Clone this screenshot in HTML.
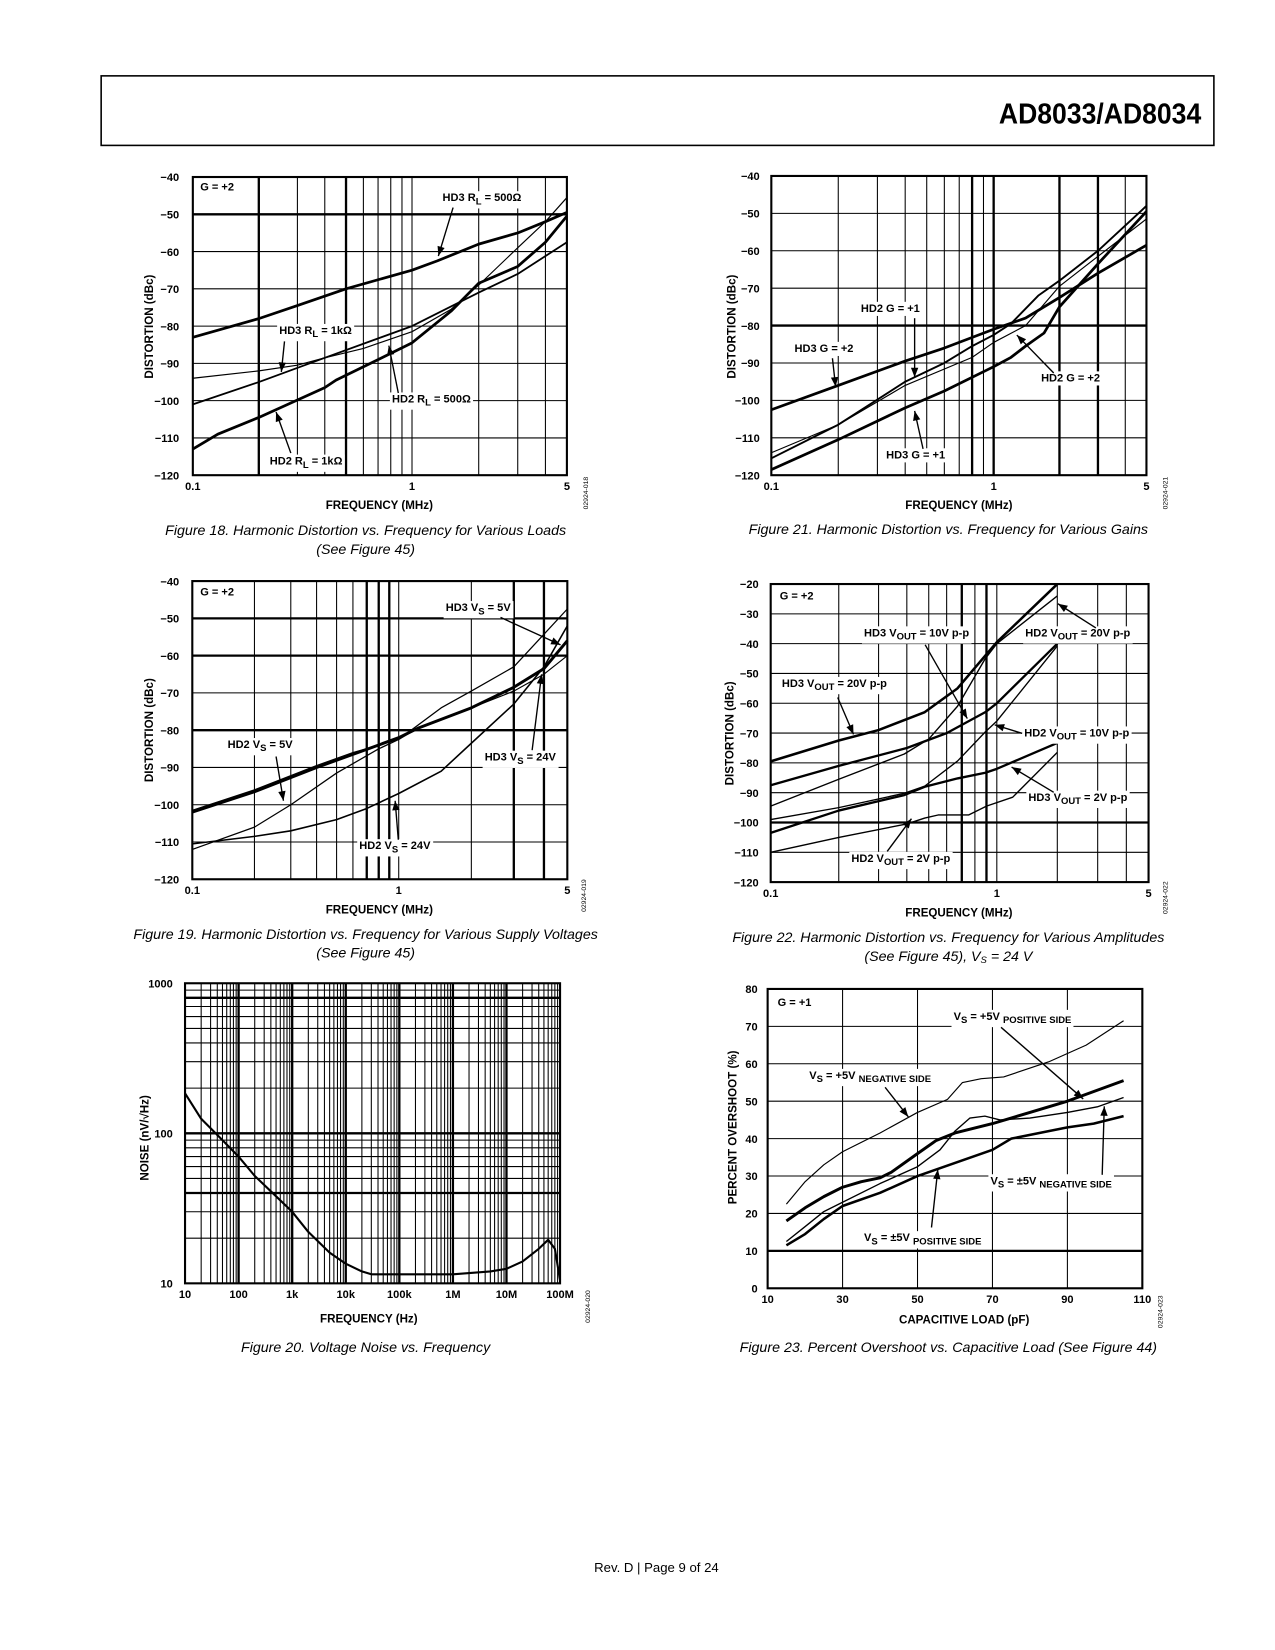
<!DOCTYPE html>
<html><head><meta charset="utf-8">
<style>
html,body{margin:0;padding:0;background:#fff;}
svg{display:block;}
text{font-family:"Liberation Sans",Arial,sans-serif;}
.tick{font-size:10.5px;font-weight:bold;}
.atitle{font-size:11px;font-weight:bold;}
.ann{font-size:10.5px;font-weight:bold;}
.cap{font-size:13.5px;font-style:italic;}
.code{font-size:6.5px;}
</style></head>
<body>
<svg id="page" width="1275" height="1650" viewBox="0 0 1210 1566" preserveAspectRatio="none" xmlns="http://www.w3.org/2000/svg">
<rect x="0" y="0" width="1210" height="1566" fill="#fff"/>
<rect x="96" y="72" width="1056" height="66" fill="none" stroke="#000" stroke-width="1.5"/>
<text x="1140" y="117" text-anchor="end" font-size="27" font-weight="bold" textLength="192" lengthAdjust="spacingAndGlyphs">AD8033/AD8034</text>
<text class="cap" x="347" y="508" text-anchor="middle">Figure 18. Harmonic Distortion vs. Frequency for Various Loads</text>
<text class="cap" x="347" y="526" text-anchor="middle">(See Figure 45)</text>
<text class="cap" x="900" y="507" text-anchor="middle">Figure 21. Harmonic Distortion vs. Frequency for Various Gains</text>
<text class="cap" x="347" y="891" text-anchor="middle">Figure 19. Harmonic Distortion vs. Frequency for Various Supply Voltages</text>
<text class="cap" x="347" y="909" text-anchor="middle">(See Figure 45)</text>
<text class="cap" x="900" y="894" text-anchor="middle">Figure 22. Harmonic Distortion vs. Frequency for Various Amplitudes</text>
<text class="cap" x="900" y="912" text-anchor="middle">(See Figure 45), V<tspan font-size="9" dy="2">S</tspan><tspan dy="-2"> = 24 V</tspan></text>
<text class="cap" x="347" y="1283" text-anchor="middle">Figure 20. Voltage Noise vs. Frequency</text>
<text class="cap" x="900" y="1283" text-anchor="middle">Figure 23. Percent Overshoot vs. Capacitive Load (See Figure 44)</text>
<text x="623" y="1492" text-anchor="middle" font-size="12.5">Rev. D | Page 9 of 24</text>
</svg>
<script>
// ---------- DATA ----------
// Fig 18
const f18_hd3_500_x=[0.1,0.2,0.3,0.5,1,1.3,2,3,4,5];
const f18_hd3_500_y=[-83,-78,-74.5,-70,-65,-62.5,-58,-55,-52,-49.5];
const f18_hd3_1k_x=[0.1,0.2,0.3,0.4,0.6,1,1.5,2,3,4,5];
const f18_hd3_1k_y=[-94,-92,-90.5,-88.5,-86,-81.5,-75.5,-69,-59,-52,-45.5];
const f18_hd2_500_x=[0.1,0.2,0.4,1,2,3,5];
const f18_hd2_500_y=[-101,-95,-88.5,-80,-71,-66,-57.5];
const f18_hd2_1k_x=[0.1,0.13,0.2,0.4,0.45,0.7,1,1.5,2,3,4,5];
const f18_hd2_1k_y=[-113,-109,-104.5,-96.5,-94.5,-89,-84.5,-76,-68.5,-64,-57.5,-50.5];
// Fig 21
const f21_hd3_g2_x=[0.1,0.2,0.4,0.6,1,1.4,2,3,5];
const f21_hd3_g2_y=[-102.5,-96,-89.5,-86,-81,-78,-72.5,-66,-58.5];
const f21_hd2_g1_x=[0.1,0.2,0.4,0.6,0.8,1,1.2,1.6,2,3,5];
const f21_hd2_g1_y=[-115.5,-106.5,-95,-90,-85.5,-82.5,-79.5,-72,-68,-60,-48];
const f21_hd2_g2_x=[0.1,0.2,0.4,0.8,1,1.4,2,3,5];
const f21_hd2_g2_y=[-114,-106.5,-96,-88.5,-84.5,-80,-69.5,-61.5,-51.5];
const f21_hd3_g1_x=[0.1,0.2,0.4,0.6,1,1.2,1.4,1.7,2,3,5];
const f21_hd3_g1_y=[-118.5,-110.5,-102,-97.5,-91,-88.5,-85.5,-82,-75,-63.5,-49.5];
// Fig 19
const f19_a_x=[0.1,0.2,0.4,0.6,1,1.2,2,3,4,5];
const f19_a_y=[-102,-96.5,-90,-86.5,-82,-79.5,-74,-68.5,-63.5,-56];
const f19_b_x=[0.1,0.2,0.3,0.5,0.8,1,1.5,2,3,5];
const f19_b_y=[-112,-106,-100,-91.5,-85,-82.5,-74,-69.5,-63,-47.5];
const f19_c_x=[0.1,0.2,0.3,0.5,0.7,1,1.5,2,3,4,5];
const f19_c_y=[-110.5,-108.5,-107,-104,-101,-97,-91,-83.5,-73,-63,-52];
const f19_d_x=[0.1,0.2,0.4,0.6,1,1.2,2,3,4,5];
const f19_d_y=[-101.5,-96,-89.5,-86,-82.5,-79.5,-74,-69.5,-65,-60];
// Fig 22
const f22_hd3_20_x=[0.1,0.2,0.3,0.48,0.67,0.89,1,2];
const f22_hd3_20_y=[-79.5,-72.5,-69,-63,-55,-44,-39.5,-20];
const f22_hd2_20_x=[0.1,0.2,0.39,0.5,0.67,0.89,1,2];
const f22_hd2_20_y=[-94.5,-85.5,-77,-72,-61,-45,-40,-24];
const f22_hd3_10_x=[0.1,0.2,0.4,0.6,0.89,1,2];
const f22_hd3_10_y=[-87.5,-81,-75,-70,-63,-60,-40];
const f22_hd2_10_x=[0.1,0.2,0.39,0.48,0.67,0.89,1,2];
const f22_hd2_10_y=[-99,-95,-90.2,-87.8,-79.4,-69.6,-66,-40.8];
const f22_hd3_2_x=[0.1,0.2,0.39,0.48,0.67,0.89,1,2];
const f22_hd3_2_y=[-103.5,-96,-90.8,-88,-85.2,-83.3,-82,-73.3];
const f22_hd2_2_x=[0.1,0.2,0.4,0.48,0.55,0.67,0.75,0.9,1.2,2];
const f22_hd2_2_y=[-110,-105,-100.5,-98.5,-97.5,-97.5,-97.5,-94.5,-91.5,-76.5];
// Fig 20
const f20_freq=[10,20,50,100,200,500,1e3,2e3,5e3,1e4,2e4,3e4,1e5,1e6,5e6,1e7,2e7,4e7,6e7,8e7,1e8];
const f20_noise=[185,125,90,70,52,38,30,22,16,13.5,12,11.5,11.5,11.5,12,12.5,14,17,19.5,17,10.5];
// Fig 23
const f23_p5pos_x=[15,20,25,30,35,40,43,50,55,60,70,80,90,105];
const f23_p5pos_y=[18,21.5,24.5,27,28.5,29.5,31,36,39.5,41.5,44,47,50,55.5];
const f23_p5neg_x=[15,20,25,30,40,50,58,62,67,73,85,95,105];
const f23_p5neg_y=[22.5,28.5,33,36.5,41.5,47,50.5,55,56,56.5,60.5,65,71.5];
const f23_pm5neg_x=[15,20,25,30,40,50,56,60,64,68,72,80,90,98,105];
const f23_pm5neg_y=[12.5,16.5,20.5,23,28,32.5,37,42,45.5,46,45,45.5,47,48.5,51];
const f23_pm5pos_x=[15,20,25,30,40,50,60,70,75,85,90,97,105];
const f23_pm5pos_y=[11.5,14.5,18.5,22,25.5,30,33.5,37,40,42,43,44,46];
const dbTicks=[-40,-50,-60,-70,-80,-90,-100,-110,-120];
const dbTicks22=[-20,-30,-40,-50,-60,-70,-80,-90,-100,-110,-120];
const freqTickVals=[0.1,1,5];
const freqTickLabels=["0.1","1","5"];
const noiseXVals=[10,100,1e3,1e4,1e5,1e6,1e7,1e8];
const noiseXLabels=["10","100","1k","10k","100k","1M","10M","100M"];
const noiseYVals=[1000,100,10];
const ovXTicks=[10,30,50,70,90,110];
const ovYTicks=[0,10,20,30,40,50,60,70,80];

// ---------- HELPERS ----------
const NS="http://www.w3.org/2000/svg";
const page=document.getElementById('page');
function mk(tag,parent){const e=document.createElementNS(NS,tag);parent.appendChild(e);return e;}
function pwLog(bps){return v=>{const lv=Math.log10(v);for(let i=0;i<bps.length-1;i++){const a=Math.log10(bps[i][0]),b=Math.log10(bps[i+1][0]);if(lv<=b||i===bps.length-2){return bps[i][1]+(lv-a)/(b-a)*(bps[i+1][1]-bps[i][1]);}}};}
function lin(d0,d1,r0,r1){return v=>r0+(v-d0)/(d1-d0)*(r1-r0);}
function line(g,x1,y1,x2,y2,w){const l=mk('line',g);l.setAttribute('x1',x1);l.setAttribute('y1',y1);l.setAttribute('x2',x2);l.setAttribute('y2',y2);l.setAttribute('stroke','#000');l.setAttribute('stroke-width',w);return l;}
function txt(g,x,y,s,cls,anchor){const t=mk('text',g);t.setAttribute('x',x);t.setAttribute('y',y);t.setAttribute('class',cls);if(anchor)t.setAttribute('text-anchor',anchor);t.textContent=s;return t;}

function chart(name,box,xs,ys,vgrid,vthick,hgrid,hthick){
  const g=mk('g',page);
  
  
  const [L,T,R,B]=box;
  vgrid.forEach(v=>{const x=xs(v);const l=line(g,x,T,x,B,vthick.includes(v)?2.2:1);
    
    });
  hgrid.forEach(v=>{const y=ys(v);const l=line(g,L,y,R,y,hthick.includes(v)?2.2:1);
    
    });
  const r=mk('rect',g);r.setAttribute('x',L);r.setAttribute('y',T);r.setAttribute('width',R-L);r.setAttribute('height',B-T);
  r.setAttribute('fill','none');r.setAttribute('stroke','#000');r.setAttribute('stroke-width',2);
  
  
  return g;
}
function series(g,name,xv,yv,xs,ys,w){
  const p=mk('polyline',g);
  p.setAttribute('points',xv.map((x,i)=>xs(x).toFixed(1)+','+ys(yv[i]).toFixed(1)).join(' '));
  p.setAttribute('fill','none');p.setAttribute('stroke','#000');p.setAttribute('stroke-width',w);p.setAttribute('stroke-linejoin','round');
  
  
}
function yTicks(g,vals,labels,ys,L){vals.forEach((v,i)=>{const t=txt(g,L-6,ys(v)+4,labels[i],'tick','end');
  
  });}
function xTicks(g,vals,labels,xs,B){vals.forEach((v,i)=>{const t=txt(g,xs(v),B+14,labels[i],'tick','middle');
  
  });}
function titles(g,xt,xx,xy,yt,yx,yy,code,cx,cy){
  const a=txt(g,xx,xy,xt,'atitle','middle');
  
  
  const b=txt(g,0,0,yt,'atitle','middle');b.setAttribute('transform','translate('+yx+','+yy+') rotate(-90)');
  
  
  const c=txt(g,0,0,code,'code','middle');c.setAttribute('transform','translate('+cx+','+cy+') rotate(-90)');
  
  
}
// annotation: parts array of [text, isSub]
function ann(g,name,x,y,parts,arrow){
  const a=mk('g',g);
  
  
  const bg=mk('rect',a);bg.setAttribute('fill','#fff');
  const t=mk('text',a);t.setAttribute('x',x);t.setAttribute('y',y);t.setAttribute('class','ann');
  let sub=false;
  parts.forEach(p=>{const s=document.createElementNS(NS,'tspan');s.textContent=p[0];
    if(p[1]&&!sub){s.setAttribute('dy','3');s.setAttribute('font-size','9');sub=true;}
    else if(!p[1]&&sub){s.setAttribute('dy','-3');sub=false;}
    t.appendChild(s);});
  const bb=t.getBBox();bg.setAttribute('x',bb.x-2);bg.setAttribute('y',bb.y-1);bg.setAttribute('width',bb.width+4);bg.setAttribute('height',bb.height+2);
  if(arrow){const [x1,y1,x2,y2]=arrow;line(a,x1,y1,x2,y2,1.3);
    const ang=Math.atan2(y2-y1,x2-x1),L=9,W=3.5;
    const bx=x2-L*Math.cos(ang),by=y2-L*Math.sin(ang);
    const hp=mk('polygon',a);
    hp.setAttribute('points',x2+','+y2+' '+(bx-W*Math.sin(ang))+','+(by+W*Math.cos(ang))+' '+(bx+W*Math.sin(ang))+','+(by-W*Math.cos(ang)));
    hp.setAttribute('fill','#000');}
}
function simple(g,name,x,y,s){const t=txt(g,x,y,s,'ann');
  
  }
const minorF=[0.2,0.3,0.4,0.5,0.6,0.7,0.8,0.9,2,3,4];
const dbLabels=v=>v.map(d=>'\u2212'+Math.abs(d));

// ---------- FIG 18 ----------
{const box=[183,168,538,451];const xs=pwLog([[0.1,183],[1,391],[5,538]]);const ys=lin(-40,-120,168,451);
 const g=chart('chart-fig18',box,xs,ys,minorF.concat([1]),[0.2,0.5],[-50,-60,-70,-80,-90,-100,-110],[-50]);
 series(g,'hd3-rl-500',f18_hd3_500_x,f18_hd3_500_y,xs,ys,2.6);
 series(g,'hd3-rl-1k',f18_hd3_1k_x,f18_hd3_1k_y,xs,ys,1.1);
 series(g,'hd2-rl-500',f18_hd2_500_x,f18_hd2_500_y,xs,ys,1.7);
 series(g,'hd2-rl-1k',f18_hd2_1k_x,f18_hd2_1k_y,xs,ys,2.6);
 yTicks(g,dbTicks,dbLabels(dbTicks),ys,176);xTicks(g,freqTickVals,freqTickLabels,xs,451);
 titles(g,'FREQUENCY (MHz)',360,483,'DISTORTION (dBc)',145,310,'02924-018',558,468);
 simple(g,'gain-label',190,181,'G = +2');
 ann(g,'label-hd3-rl-500',420,191,[['HD3 R'],['L',1],[' = 500Ω']],[430,197,416,243]);
 ann(g,'label-hd3-rl-1k',265,317,[['HD3 R'],['L',1],[' = 1kΩ']],[270,324,267,353]);
 ann(g,'label-hd2-rl-500',372,382,[['HD2 R'],['L',1],[' = 500Ω']],[378,373,369,328]);
 ann(g,'label-hd2-rl-1k',256,441,[['HD2 R'],['L',1],[' = 1kΩ']],[276,430,262,391]);}

// ---------- FIG 21 ----------
{const box=[732,167,1088,451];const xs=pwLog([[0.1,732],[1,943],[5,1088]]);const ys=lin(-40,-120,167,451);
 const g=chart('chart-fig21',box,xs,ys,minorF.concat([1]),[0.8,1,2,3],[-50,-60,-70,-80,-90,-100,-110],[-80]);
 series(g,'hd3-g2',f21_hd3_g2_x,f21_hd3_g2_y,xs,ys,2.6);
 series(g,'hd2-g1',f21_hd2_g1_x,f21_hd2_g1_y,xs,ys,1.8);
 series(g,'hd2-g2',f21_hd2_g2_x,f21_hd2_g2_y,xs,ys,1.1);
 series(g,'hd3-g1',f21_hd3_g1_x,f21_hd3_g1_y,xs,ys,2.6);
 yTicks(g,dbTicks,dbLabels(dbTicks),ys,727);xTicks(g,freqTickVals,freqTickLabels,xs,451);
 titles(g,'FREQUENCY (MHz)',910,483,'DISTORTION (dBc)',698,310,'02924-021',1108,468);
 ann(g,'label-hd2-g1',817,296,[['HD2 G = +1']],[868,302,868,358]);
 ann(g,'label-hd3-g2',754,334,[['HD3 G = +2']],[790,340,793,367]);
 ann(g,'label-hd2-g2',988,362,[['HD2 G = +2']],[1000,354,965,318]);
 ann(g,'label-hd3-g1',841,435,[['HD3 G = +1']],[876,426,868,390]);}

// ---------- FIG 19 ----------
{const box=[182.5,551.5,538.4,834.5];const xs=pwLog([[0.1,182.5],[1,378.4],[5,538.4]]);const ys=lin(-40,-120,551.5,834.5);
 const g=chart('chart-fig19',box,xs,ys,minorF.concat([1]),[0.7,0.8,0.9,3,4],[-50,-60,-70,-80,-90,-100,-110],[-50,-60,-80]);
 series(g,'hd3-vs-24v',f19_a_x,f19_a_y,xs,ys,2.8);
 series(g,'hd2-vs-5v',f19_b_x,f19_b_y,xs,ys,1.2);
 series(g,'hd2-vs-24v',f19_c_x,f19_c_y,xs,ys,1.5);
 series(g,'hd3-vs-5v',f19_d_x,f19_d_y,xs,ys,1.1);
 yTicks(g,dbTicks,dbLabels(dbTicks),ys,176);xTicks(g,freqTickVals,freqTickLabels,xs,834.5);
 titles(g,'FREQUENCY (MHz)',360,867,'DISTORTION (dBc)',145,693,'02924-019',556,850);
 simple(g,'gain-label',190,565,'G = +2');
 ann(g,'label-hd3-vs-5v',423,580,[['HD3 V'],['S',1],[' = 5V']],[475,586,532,612]);
 ann(g,'label-hd2-vs-5v',216,710,[['HD2 V'],['S',1],[' = 5V']],[262,718,269,760]);
 ann(g,'label-hd3-vs-24v',460,722,[['HD3 V'],['S',1],[' = 24V']],[505,712,514,640]);
 ann(g,'label-hd2-vs-24v',341,806,[['HD2 V'],['S',1],[' = 24V']],[378,797,375,760]);}

// ---------- FIG 22 ----------
{const box=[731.4,554.3,1090,837.2];const xs=pwLog([[0.1,731.4],[1,946],[2,1003.4],[5,1090]]);const ys=lin(-20,-120,554.3,837.2);
 const g=chart('chart-fig22',box,xs,ys,minorF.concat([1]),[0.7,0.9],[-30,-40,-50,-60,-70,-80,-90,-100,-110],[-100]);
 series(g,'hd3-vout-20v',f22_hd3_20_x,f22_hd3_20_y,xs,ys,2.4);
 series(g,'hd2-vout-20v',f22_hd2_20_x,f22_hd2_20_y,xs,ys,1.3);
 series(g,'hd3-vout-10v',f22_hd3_10_x,f22_hd3_10_y,xs,ys,2.2);
 series(g,'hd2-vout-10v',f22_hd2_10_x,f22_hd2_10_y,xs,ys,1.3);
 series(g,'hd3-vout-2v',f22_hd3_2_x,f22_hd3_2_y,xs,ys,2.2);
 series(g,'hd2-vout-2v',f22_hd2_2_x,f22_hd2_2_y,xs,ys,1.3);
 yTicks(g,dbTicks22,dbLabels(dbTicks22),ys,726);xTicks(g,freqTickVals,freqTickLabels,xs,837.2);
 titles(g,'FREQUENCY (MHz)',910,870,'DISTORTION (dBc)',696,696,'02924-022',1108,852);
 simple(g,'gain-label',740,569,'G = +2');
 ann(g,'label-hd3-vout-10v',820,604,[['HD3 V'],['OUT',1],[' = 10V p-p']],[878,612,918,682]);
 ann(g,'label-hd2-vout-20v',973,604,[['HD2 V'],['OUT',1],[' = 20V p-p']],[1040,596,1004,573]);
 ann(g,'label-hd3-vout-20v',742,652,[['HD3 V'],['OUT',1],[' = 20V p-p']],[795,662,810,697]);
 ann(g,'label-hd2-vout-10v',972,699,[['HD2 V'],['OUT',1],[' = 10V p-p']],[970,696,944,688]);
 ann(g,'label-hd3-vout-2v',976,760,[['HD3 V'],['OUT',1],[' = 2V p-p']],[1000,752,960,728]);
 ann(g,'label-hd2-vout-2v',808,818,[['HD2 V'],['OUT',1],[' = 2V p-p']],[842,808,865,777]);}

// ---------- FIG 20 ----------
{const box=[175.6,933.2,531.5,1218];const xs=pwLog([[10,175.6],[1e8,531.5]]);const ys=pwLog([[10,1218],[1000,933.2]]);
 const vg=[],hg=[];
 for(let d=10;d<1e8;d*=10){for(let m=2;m<=9;m++)vg.push(d*m);vg.push(d*10);}
 for(let d=10;d<1000;d*=10){for(let m=2;m<=9;m++)hg.push(d*m);}
 hg.push(100);
 const g=chart('chart-fig20',box,xs,ys,vg,[100,1e3,1e4,1e5,1e6,1e7],hg,[800,40,100]);
 series(g,'voltage-noise-curve',f20_freq,f20_noise,xs,ys,2);
 yTicks(g,noiseYVals,noiseYVals.map(String),ys,170);xTicks(g,noiseXVals,noiseXLabels,xs,1218);
 titles(g,'FREQUENCY (Hz)',350,1255,'NOISE (nV/\u221AHz)',141,1080,'02924-020',560,1240);}

// ---------- FIG 23 ----------
{const box=[728.5,938.6,1084.1,1222.7];const xs=lin(10,110,728.5,1084.1);const ys=lin(0,80,1222.7,938.6);
 const g=chart('chart-fig23',box,xs,ys,[30,50,70,90],[],[10,20,30,40,50,60,70],[10]);
 series(g,'vs-plus5v-positive-side',f23_p5pos_x,f23_p5pos_y,xs,ys,2.8);
 series(g,'vs-plus5v-negative-side',f23_p5neg_x,f23_p5neg_y,xs,ys,1.1);
 series(g,'vs-pm5v-negative-side',f23_pm5neg_x,f23_pm5neg_y,xs,ys,1.3);
 series(g,'vs-pm5v-positive-side',f23_pm5pos_x,f23_pm5pos_y,xs,ys,2.4);
 yTicks(g,ovYTicks,ovYTicks.map(String),ys,725);xTicks(g,ovXTicks,ovXTicks.map(String),xs,1222.7);
 titles(g,'CAPACITIVE LOAD (pF)',915,1256,'PERCENT OVERSHOOT (%)',699,1070,'02924-023',1103,1245);
 simple(g,'gain-label',738,955,'G = +1');
 ann(g,'label-vs-plus5v-positive',905,968,[['V'],['S',1],[' = +5V '],['POSITIVE SIDE',1]],[950,975,1028,1043]);
 ann(g,'label-vs-plus5v-negative',768,1024,[['V'],['S',1],[' = +5V '],['NEGATIVE SIDE',1]],[840,1032,862,1060]);
 ann(g,'label-vs-pm5v-negative',940,1124,[['V'],['S',1],[' = \u00B15V '],['NEGATIVE SIDE',1]],[1046,1115,1048,1050]);
 ann(g,'label-vs-pm5v-positive',820,1178,[['V'],['S',1],[' = \u00B15V '],['POSITIVE SIDE',1]],[884,1165,890,1110]);}
</script>
</body></html>
